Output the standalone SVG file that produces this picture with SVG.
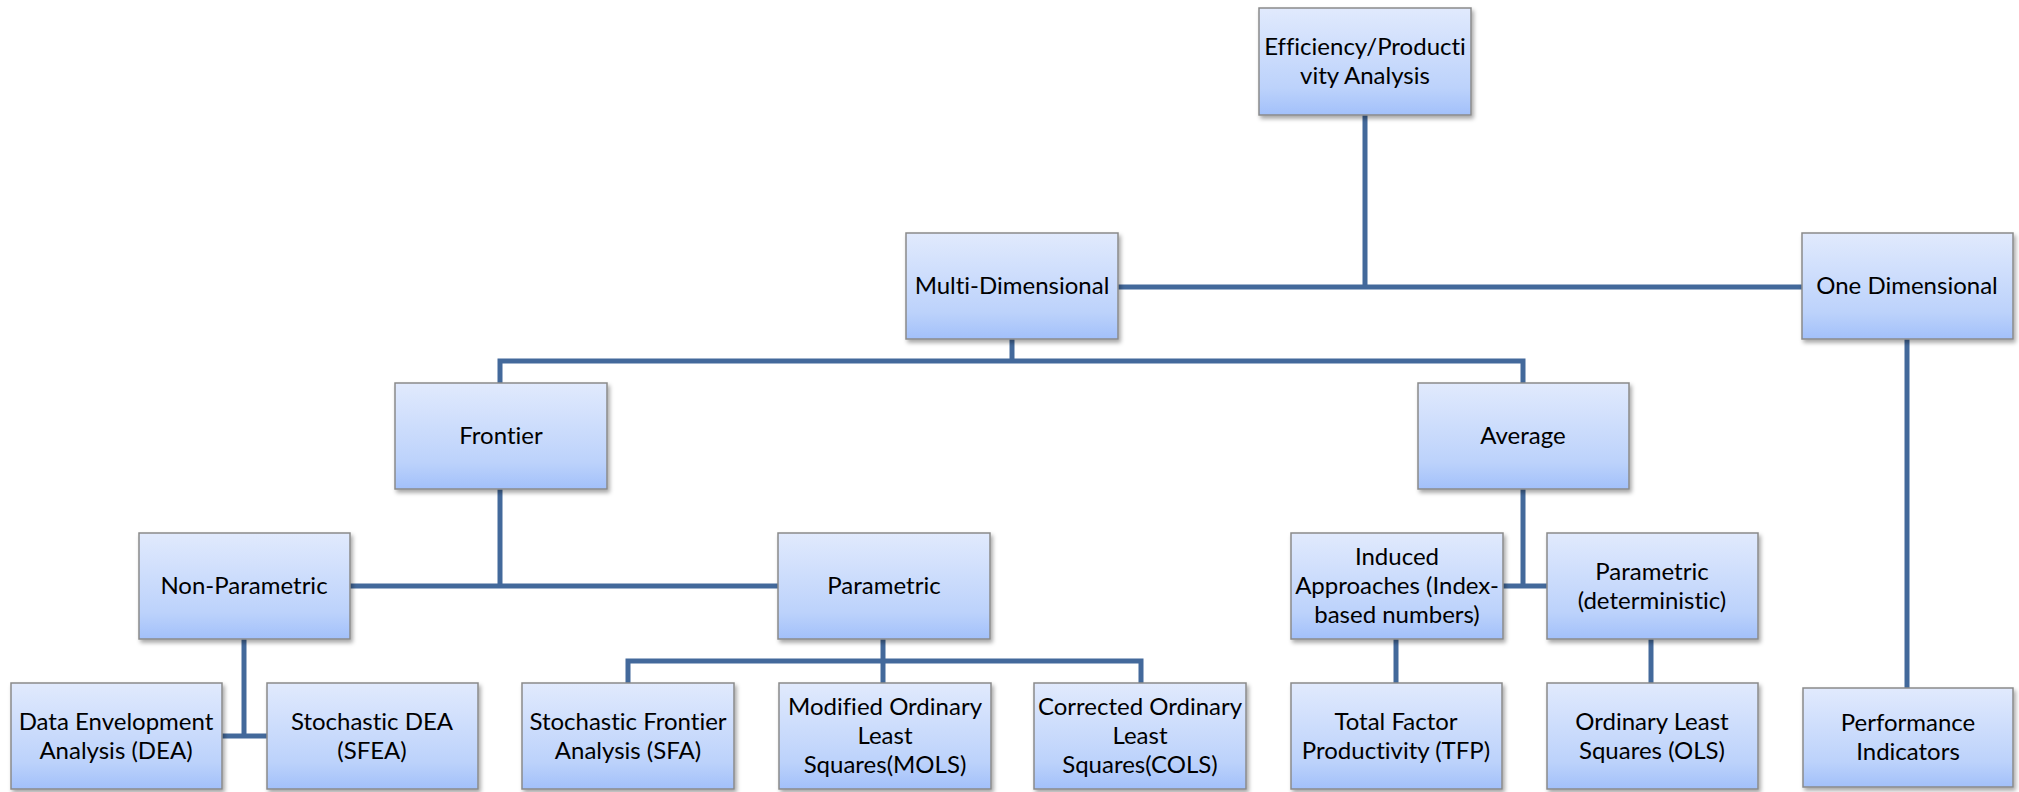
<svg xmlns="http://www.w3.org/2000/svg" width="2019" height="792" viewBox="0 0 2019 792">
<defs>
<linearGradient id="g" x1="0" y1="0" x2="0" y2="1">
<stop offset="0" stop-color="#e1eafd"/>
<stop offset="0.75" stop-color="#bcd2fb"/>
<stop offset="1" stop-color="#a2c0fa"/>
</linearGradient>
<filter id="sh" x="-10%" y="-10%" width="125%" height="130%">
<feDropShadow dx="2" dy="3" stdDeviation="2" flood-color="#000" flood-opacity="0.35"/>
</filter>
</defs>
<style>
.box{fill:url(#g);stroke:#8a8a8a;stroke-width:1.5;filter:url(#sh)}
.t{font-family:Lato,"Open Sans","Liberation Sans",sans-serif;font-size:24px;fill:#000;text-anchor:middle;font-variant-ligatures:none}
.c{fill:none;stroke:#43699b;stroke-width:5;stroke-linejoin:miter}
</style>
<rect width="2019" height="792" fill="#fff"/>
<g id="connectors">
<path class="c" d="M1365,115 V287"/>
<path class="c" d="M1118,287 H1802"/>
<path class="c" d="M1012,339 V361"/>
<path class="c" d="M500,383 V361 H1523 V383"/>
<path class="c" d="M500,489 V586"/>
<path class="c" d="M350,586 H778"/>
<path class="c" d="M1523,489 V586"/>
<path class="c" d="M1503,586 H1547"/>
<path class="c" d="M244,639 V736"/>
<path class="c" d="M222,736 H267"/>
<path class="c" d="M883,639 V683"/>
<path class="c" d="M628,683 V661 H1141 V683"/>
<path class="c" d="M1396,639 V683"/>
<path class="c" d="M1651,639 V683"/>
<path class="c" d="M1907,339 V688"/>
</g>
<g id="n-root"><rect class="box" x="1259" y="8" width="212" height="107"/><text class="t" x="1365" y="54.5">Efficiency/Producti</text><text class="t" x="1365" y="83.5">vity Analysis</text></g>
<g id="n-multi"><rect class="box" x="906" y="233" width="212" height="106"/><text class="t" x="1012" y="294">Multi-Dimensional</text></g>
<g id="n-one"><rect class="box" x="1802" y="233" width="211" height="106"/><text class="t" x="1907" y="294">One Dimensional</text></g>
<g id="n-frontier"><rect class="box" x="395" y="383" width="212" height="106"/><text class="t" x="501" y="444">Frontier</text></g>
<g id="n-average"><rect class="box" x="1418" y="383" width="211" height="106"/><text class="t" x="1523" y="444">Average</text></g>
<g id="n-nonparam"><rect class="box" x="139" y="533" width="211" height="106"/><text class="t" x="244" y="594">Non-Parametric</text></g>
<g id="n-param"><rect class="box" x="778" y="533" width="212" height="106"/><text class="t" x="884" y="594">Parametric</text></g>
<g id="n-induced"><rect class="box" x="1291" y="533" width="212" height="106"/><text class="t" x="1397" y="565">Induced</text><text class="t" x="1397" y="594">Approaches (Index-</text><text class="t" x="1397" y="623">based numbers)</text></g>
<g id="n-paramdet"><rect class="box" x="1547" y="533" width="211" height="106"/><text class="t" x="1652" y="579.5">Parametric</text><text class="t" x="1652" y="608.5">(deterministic)</text></g>
<g id="n-dea"><rect class="box" x="11" y="683" width="211" height="106"/><text class="t" x="116" y="729.5">Data Envelopment</text><text class="t" x="116" y="758.5">Analysis (DEA)</text></g>
<g id="n-sfea"><rect class="box" x="267" y="683" width="211" height="106"/><text class="t" x="372" y="729.5">Stochastic DEA</text><text class="t" x="372" y="758.5">(SFEA)</text></g>
<g id="n-sfa"><rect class="box" x="522" y="683" width="212" height="106"/><text class="t" x="628" y="729.5">Stochastic Frontier</text><text class="t" x="628" y="758.5">Analysis (SFA)</text></g>
<g id="n-mols"><rect class="box" x="779" y="683" width="212" height="106"/><text class="t" x="885" y="715">Modified Ordinary</text><text class="t" x="885" y="744">Least</text><text class="t" x="885" y="773">Squares(MOLS)</text></g>
<g id="n-cols"><rect class="box" x="1034" y="683" width="212" height="106"/><text class="t" x="1140" y="715">Corrected Ordinary</text><text class="t" x="1140" y="744">Least</text><text class="t" x="1140" y="773">Squares(COLS)</text></g>
<g id="n-tfp"><rect class="box" x="1291" y="683" width="211" height="106"/><text class="t" x="1396" y="729.5">Total Factor</text><text class="t" x="1396" y="758.5">Productivity (TFP)</text></g>
<g id="n-ols"><rect class="box" x="1547" y="683" width="211" height="106"/><text class="t" x="1652" y="729.5">Ordinary Least</text><text class="t" x="1652" y="758.5">Squares (OLS)</text></g>
<g id="n-perf"><rect class="box" x="1803" y="688" width="210" height="99"/><text class="t" x="1908" y="731">Performance</text><text class="t" x="1908" y="760">Indicators</text></g>
</svg>
